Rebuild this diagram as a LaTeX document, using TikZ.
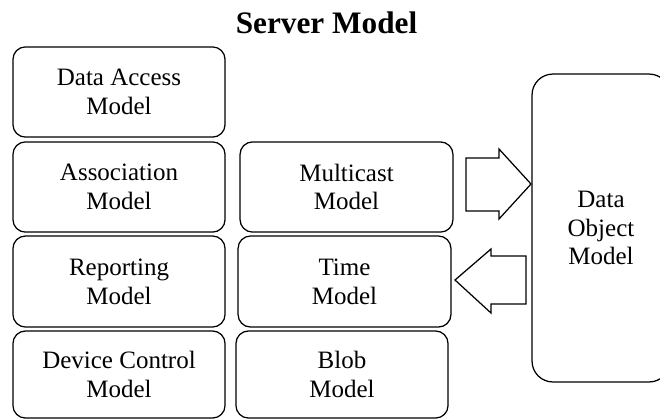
\documentclass[tikz,border=0pt]{standalone}
\usepackage{fontspec}
\setmainfont{Liberation Serif}
\usepackage{tikz}
\usetikzlibrary{arrows.meta}

\begin{document}
\begin{tikzpicture}[x=0.48pt, y=-0.48pt, line width=0.6pt,
    mbox/.style={draw, rounded corners=6pt, minimum width=101.8pt, minimum height=43.3pt, inner sep=0pt, align=center, font=\fontsize{12}{13.8}\selectfont}]
			% 固定画布大小
			\useasboundingbox (0,0) rectangle (660,419);
			% 标题
			\node[anchor=base, font=\fontsize{15}{18}\selectfont\bfseries] (title) at (326.5,33) {Server Model};
			% 左列
			\node[mbox] (access) at (119,92) {Data Access\\Model};
			\node[mbox] (assoc) at (119,187) {Association\\Model};
			\node[mbox, minimum height=43.7pt] (report) at (119,281.5) {Reporting\\Model};
			\node[mbox, minimum height=41.8pt] (device) at (119,374.5) {Device Control\\Model};
			% 中列
			\node[mbox, minimum width=102.2pt] (multi) at (346.5,187) {Multicast\\Model};
			\node[mbox, minimum width=102.2pt, minimum height=43.7pt] (timem) at (344.5,281.5) {Time\\Model};
			\node[mbox, minimum height=41.8pt] (blob) at (342,374.5) {Blob\\Model};
			% 右侧大框
			\node[mbox, rounded corners=10pt, minimum width=66.2pt, minimum height=147.8pt] (dobj) at (601,228) {Data\\Object\\Model};
			% 空心箭头
			\draw (466,158) -- (499,158) -- (499,149) -- (531,184) -- (499,219) -- (499,211) -- (466,211) -- cycle;
			\draw (526,256) -- (491,256) -- (491,249) -- (455,280) -- (491,313) -- (491,304) -- (526,304) -- cycle;
		\end{tikzpicture}
\end{document}
